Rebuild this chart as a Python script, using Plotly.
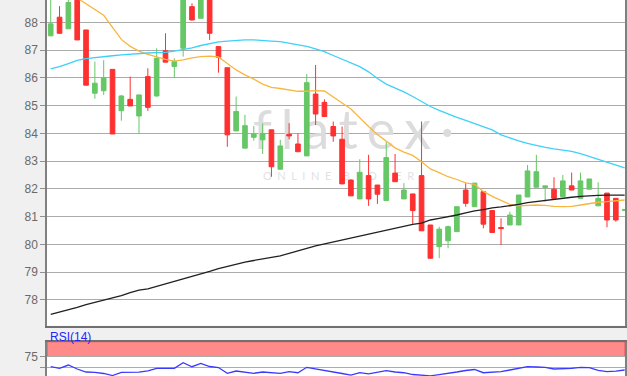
import plotly.graph_objects as go

# ---------------- data ----------------
days = list(range(66))

open_ = [87.52, 88.19, 87.77, 88.85, 87.73, 85.45, 85.54, 86.31, 84.82, 85.23,
         84.63, 86.05, 85.35, 86.98, 86.41, 87.07, 88.57, 88.15, 89.05, 87.13,
         86.37, 84.09, 83.47, 83.86, 83.77, 84.13, 82.71, 83.97, 83.62, 83.19,
         85.42, 85.12, 84.25, 83.79, 82.32, 81.64, 82.48, 82.14, 81.58, 82.57,
         81.64, 81.82, 82.48, 80.70, 79.92, 80.13, 80.46, 81.96, 81.36, 81.90,
         81.22, 80.61, 80.70, 80.70, 81.71, 82.06, 82.05, 81.99, 81.72, 82.11,
         81.66, 81.99, 81.39, 81.85, 81.66, 81.22]
high = [89.10, 88.59, 88.90, 88.90, 87.73, 86.59, 86.64, 86.31, 85.39, 86.05,
        85.39, 86.35, 87.07, 87.61, 86.71, 89.20, 88.69, 89.05, 89.10, 87.13,
        86.37, 85.33, 84.67, 84.27, 84.36, 84.13, 83.77, 84.37, 84.00, 86.14,
        86.47, 85.23, 84.43, 84.25, 82.35, 83.07, 83.23, 82.14, 83.70, 83.26,
        82.21, 81.82, 84.43, 80.70, 80.64, 80.68, 81.36, 82.21, 82.21, 81.90,
        81.22, 80.94, 81.18, 81.78, 82.86, 83.23, 82.11, 82.42, 82.50, 82.59,
        82.59, 82.36, 82.24, 81.85, 81.66, 81.25]
low = [87.50, 87.61, 87.77, 87.37, 85.74, 85.25, 85.39, 83.98, 84.46, 84.99,
       83.98, 84.81, 85.33, 86.57, 86.00, 86.77, 88.07, 88.15, 87.37, 86.19,
       83.52, 84.09, 83.47, 83.74, 83.26, 82.44, 82.71, 83.79, 83.34, 83.19,
       84.30, 84.61, 83.70, 82.18, 81.75, 81.64, 81.39, 81.46, 81.58, 82.26,
       81.64, 80.74, 80.49, 79.50, 79.50, 79.86, 80.46, 81.36, 81.36, 80.58,
       80.43, 79.98, 80.70, 80.70, 81.71, 82.06, 81.54, 81.66, 81.72, 81.96,
       81.66, 81.99, 81.39, 80.62, 80.82, 81.22]
close = [87.95, 87.61, 88.72, 87.37, 85.74, 85.81, 86.00, 83.98, 85.35, 84.99,
         85.39, 84.94, 86.71, 86.57, 86.59, 89.10, 88.09, 88.95, 87.61, 86.75,
         83.95, 84.79, 84.28, 83.98, 84.00, 82.80, 83.55, 83.91, 83.34, 85.83,
         84.70, 84.61, 83.91, 82.18, 81.75, 82.60, 81.64, 81.81, 83.13, 82.26,
         81.96, 81.22, 80.49, 79.50, 80.55, 80.64, 81.36, 81.48, 82.21, 80.73,
         80.43, 80.57, 81.06, 81.78, 82.65, 82.62, 82.11, 81.66, 82.29, 81.96,
         82.29, 82.36, 81.66, 80.88, 80.88, 81.25]

ma_short = [89.40, 89.20, 89.00, 88.88, 88.68, 88.49, 88.26, 87.82, 87.39, 87.14,
            86.97, 86.85, 86.76, 86.67, 86.61, 86.65, 86.72, 86.77, 86.79, 86.76,
            86.52, 86.29, 86.11, 85.96, 85.78, 85.66, 85.62, 85.57, 85.52, 85.52,
            85.54, 85.53, 85.33, 85.10, 84.88, 84.56, 84.25, 83.96, 83.71, 83.48,
            83.33, 83.21, 82.98, 82.72, 82.59, 82.44, 82.34, 82.22, 82.16, 81.91,
            81.73, 81.57, 81.44, 81.39, 81.41, 81.42, 81.41, 81.37, 81.36, 81.37,
            81.42, 81.48, 81.52, 81.54, 81.58, 81.60]
ma_mid = [86.33, 86.41, 86.52, 86.63, 86.70, 86.74, 86.77, 86.80, 86.83, 86.86,
          86.89, 86.90, 86.91, 86.92, 86.97, 87.03, 87.08, 87.17, 87.24, 87.30,
          87.33, 87.36, 87.37, 87.37, 87.36, 87.33, 87.31, 87.26, 87.21, 87.14,
          87.05, 86.95, 86.81, 86.68, 86.55, 86.41, 86.22, 85.98, 85.78, 85.64,
          85.50, 85.33, 85.15, 84.97, 84.83, 84.70, 84.58, 84.47, 84.36, 84.25,
          84.13, 83.95, 83.83, 83.73, 83.64, 83.56, 83.50, 83.44, 83.39, 83.35,
          83.27, 83.17, 83.08, 82.98, 82.86, 82.76]
ma_long = [77.48, 77.56, 77.63, 77.73, 77.83, 77.91, 77.98, 78.07, 78.15, 78.26,
           78.35, 78.40, 78.49, 78.56, 78.65, 78.74, 78.83, 78.94, 79.03, 79.13,
           79.21, 79.29, 79.36, 79.42, 79.48, 79.54, 79.59, 79.68, 79.78, 79.86,
           79.95, 80.02, 80.08, 80.15, 80.23, 80.30, 80.38, 80.45, 80.50, 80.58,
           80.64, 80.72, 80.77, 80.88, 80.94, 80.99, 81.06, 81.14, 81.21, 81.25,
           81.32, 81.35, 81.39, 81.44, 81.51, 81.55, 81.60, 81.64, 81.66, 81.70,
           81.73, 81.76, 81.77, 81.78, 81.78, 81.78]
rsi = [52.2, 48.7, 56.0, 47.1, 40.4, 39.7, 37.1, 32.6, 39.7, 39.7,
       40.0, 43.1, 48.7, 48.7, 48.7, 61.2, 52.2, 59.4, 52.7, 50.4,
       37.5, 42.6, 40.4, 37.5, 40.4, 39.3, 37.5, 41.1, 38.8, 50.9,
       47.1, 44.2, 41.1, 37.1, 33.7, 38.8, 36.4, 39.7, 43.3, 40.4,
       38.8, 34.8, 32.6, 31.9, 34.8, 37.1, 40.4, 43.8, 46.0, 38.8,
       40.0, 41.1, 44.9, 48.2, 52.2, 51.6, 50.9, 47.1, 47.1, 48.7,
       50.9, 50.4, 43.8, 41.1, 42.6, 44.9]

price_ticks = [78, 79, 80, 81, 82, 83, 84, 85, 86, 87, 88]
rsi_ticks = [75, 50]
rsi_ticklabels = ["75", ""]
rsi_upper = 75

# ---------------- styling ----------------
GREEN = "#66c766"
RED = "#ff3030"
FONT = "Liberation Sans, Arial, sans-serif"
X_RANGE = [-0.42, 65.04]
SP = "\u2006"

fig = go.Figure()

# watermark on the base (bottom) layer, below the candles
fig.add_trace(go.Scatter(x=[34.3], y=[0.585], mode="text",
                         text=[SP.join("flatex") + SP + "\u00b7"],
                         textfont=dict(size=54, color="#dcdcdc", family="Lato"),
                         xaxis="x", yaxis="y", hoverinfo="skip", showlegend=False))
fig.add_trace(go.Scatter(x=[32.6], y=[0.455], mode="text",
                         text=["O  N  L  I  N  E    B  R  O  K  E  R"],
                         textfont=dict(size=11, color="#e2e2e2", family="Lato"),
                         xaxis="x", yaxis="y", hoverinfo="skip", showlegend=False))

fig.add_trace(go.Candlestick(
    x=days, open=open_, high=high, low=low, close=close,
    increasing=dict(line=dict(color=GREEN, width=1), fillcolor=GREEN),
    decreasing=dict(line=dict(color=RED, width=1), fillcolor=RED),
    whiskerwidth=0, xaxis="x", yaxis="y2", hoverinfo="skip", showlegend=False))

fig.add_trace(go.Scatter(x=days, y=ma_short, mode="lines",
                         line=dict(color="#f8b640", width=1.3),
                         xaxis="x", yaxis="y2", hoverinfo="skip"))
fig.add_trace(go.Scatter(x=days, y=ma_mid, mode="lines",
                         line=dict(color="#3fd0f8", width=1.3),
                         xaxis="x", yaxis="y2", hoverinfo="skip"))
fig.add_trace(go.Scatter(x=days, y=ma_long, mode="lines",
                         line=dict(color="#202020", width=1.3),
                         xaxis="x", yaxis="y2", hoverinfo="skip"))

fig.add_trace(go.Scatter(x=days, y=rsi, mode="lines",
                         line=dict(color="#3a3aff", width=1.3),
                         xaxis="x2", yaxis="y3", hoverinfo="skip"))

fig.add_shape(type="rect", xref="x2 domain", yref="y3",
              x0=0, x1=1, y0=rsi_upper, y1=108,
              fillcolor="#ff8a8a", line=dict(color="#d85858", width=1), layer="below")

fig.add_annotation(text="RSI(14)", xref="paper", yref="paper", x=0.002, y=0.105,
                   xanchor="left", yanchor="middle", showarrow=False,
                   font=dict(size=12, color="#2424ff", family=FONT))

fig.update_layout(
    width=627, height=376,
    margin=dict(l=47, r=2, t=0, b=0),
    paper_bgcolor="#f0f0f0", plot_bgcolor="white",
    showlegend=False, boxgap=0.25,
    xaxis=dict(domain=[0, 1], range=X_RANGE, anchor="y", showticklabels=False,
               ticks="", showgrid=False, zeroline=False, showline=True,
               linecolor="#707070", linewidth=1.5, rangeslider=dict(visible=False)),
    yaxis=dict(domain=[0.1338, 1], range=[0, 1], visible=False, anchor="x"),
    yaxis2=dict(overlaying="y", anchor="x", range=[77.07, 88.81], tickvals=price_ticks,
                ticks="outside", ticklen=5, tickcolor="#909090", tickwidth=1,
                tickfont=dict(size=12, color="#6a6a6a", family=FONT),
                showgrid=True, gridcolor="#ababab", gridwidth=1, zeroline=False,
                showline=True, mirror=True, linecolor="#808080", linewidth=1.5),
    xaxis2=dict(domain=[0, 1], range=X_RANGE, anchor="y3", showticklabels=False,
                ticks="", showgrid=False, zeroline=False, showline=True, mirror=True,
                linecolor="#707070", linewidth=1.5),
    yaxis3=dict(domain=[0, 0.0912], anchor="x2", range=[31.5, 108],
                tickvals=rsi_ticks, ticktext=rsi_ticklabels,
                ticks="outside", ticklen=5, tickcolor="#909090",
                tickfont=dict(size=12, color="#6a6a6a", family=FONT),
                showgrid=True, gridcolor="#ababab", gridwidth=1, zeroline=False,
                showline=True, mirror=True, linecolor="#808080", linewidth=1.5),
)

fig.write_html("out.html")
